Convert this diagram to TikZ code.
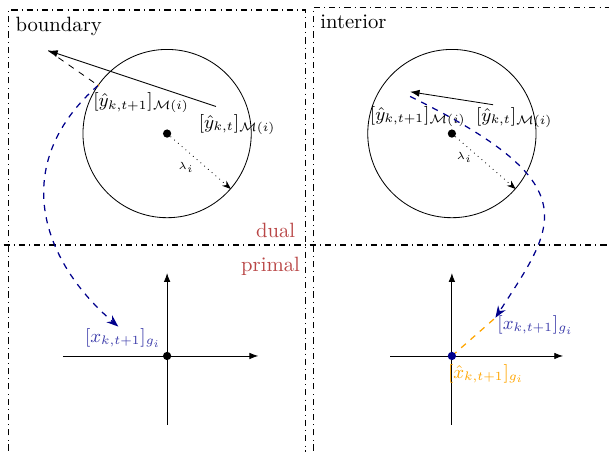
\documentclass[tikz,border=0pt]{standalone}
\usepackage{amsmath,amssymb}
\usepackage{xcolor}
\usepackage{tikz}
\usetikzlibrary{arrows.meta,positioning,calc}
\definecolor{dualred}{RGB}{185,70,70}
\definecolor{projblue}{RGB}{0,0,140}
\definecolor{lblblue}{RGB}{60,60,170}
\definecolor{clipor}{RGB}{255,165,0}
\tikzset{
  panel/.style ={dashdotted, line width=0.5pt},
  divide/.style={dashdotted, line width=1pt},
  ball/.style  ={draw, circle, minimum size=2.86cm, inner sep=0pt},
  ctr/.style   ={circle, fill, inner sep=0pt, minimum size=4pt},
  upd/.style   ={-{Latex[length=1.6mm,width=1.2mm]}},
  rad/.style   ={dotted, -{Stealth[length=1.5mm]}},
  proj/.style  ={dashed, projblue, line width=0.6pt, -{Stealth[length=2mm]}},
  axline/.style={-{Latex[length=1.5mm,width=1.1mm]}},
  lbl/.style   ={font=\small, inner sep=1pt},
  lam/.style   ={font=\tiny, inner sep=1pt},
  tag/.style   ={text=dualred}
}

\begin{document}
\begin{tikzpicture}
  \useasboundingbox (0,0) rectangle (10.35,7.68);
  \clip (0,0) rectangle (10.35,7.68);
  % panels
  \draw[panel] (0.14,-0.5) -- (0.14,7.51) -- (5.19,7.51) -- (5.19,-0.5);
  \draw[panel] (5.32,-0.5) -- (5.32,7.55) -- (10.8,7.55);
  \draw[divide] (-0.2,3.52) -- (10.6,3.52);
  \node[anchor=north west] (tbd) at (0.14,7.51) {boundary};
  \node[anchor=north west] (tin) at (5.32,7.55) {interior};
  \node[tag, anchor=east] (tdu) at (5.14,3.76) {dual};
  \node[tag, anchor=east] (tpr) at (5.22,3.15) {primal};

  % boundary, dual
  \node[ball] (bl) at (2.84,5.41) {};
  \node[ctr] (cl) at (bl.center) {};
  \draw[rad] (cl) -- (bl.-41.6);
  \node[lam] (laml) at (3.16,4.83) {$\lambda_i$};
  \coordinate (ytl) at (3.67,5.87);
  \coordinate (ysl) at (0.82,6.82);
  \coordinate (pl) at ($(cl)!1.43cm!(ysl)$);
  \draw[upd] (ytl) -- (ysl);
  \draw[dashed] (ysl) -- (pl);
  \fill[clipor] (pl) circle (0.6pt);
  \node[lbl] (ytll) at (4.03,5.57) {$[\hat{y}_{k,t}]_{\mathcal{M}(i)}$};
  \node[lbl] (ysll) at (2.40,5.93) {$[\hat{y}_{k,t+1}]_{\mathcal{M}(i)}$};

  % boundary, primal
  \coordinate (ol) at (2.84,1.63);
  \draw[axline] (1.07,1.63) -- (4.39,1.63);
  \draw[axline] (2.84,0.46) -- (2.84,3.04);
  \node[ctr] (odl) at (ol) {};
  \coordinate (xl) at (2.01,2.13);
  \draw[proj] (pl) .. controls (0.22,4.96) and (0.60,3.35) .. (xl);
  \node[lbl, text=lblblue] (xll) at (2.09,1.94) {$[x_{k,t+1}]_{g_i}$};

  % interior, dual
  \node[ball] (br) at (7.68,5.41) {};
  \node[ctr] (cr) at (br.center) {};
  \draw[rad] (cr) -- (br.-41.6);
  \node[lam] (lamr) at (7.89,5.00) {$\lambda_i$};
  \coordinate (ytr) at (8.38,5.90);
  \coordinate (ysr) at (6.97,6.12);
  \draw[upd] (ytr) -- (ysr);
  \node[lbl] (ytrl) at (8.74,5.68) {$[\hat{y}_{k,t}]_{\mathcal{M}(i)}$};
  \node[lbl] (ysrl) at (7.10,5.70) {$[\hat{y}_{k,t+1}]_{\mathcal{M}(i)}$};

  % interior, primal
  \coordinate (or) at (7.68,1.63);
  \draw[axline] (6.63,1.63) -- (9.57,1.63);
  \draw[axline] (7.68,0.46) -- (7.68,3.04);
  \coordinate (xr) at (8.42,2.28);
  \draw[dashed, clipor, line width=0.6pt] (or) -- (xr);
  \node[ctr, fill=projblue] (odr) at (or) {};
  \draw[proj] ($(ysr)+(0,-0.08)$) .. controls (10.03,4.54) and (9.44,3.86) .. (xr);
  \node[lbl, text=lblblue] (xrl) at (9.10,2.16) {$[x_{k,t+1}]_{g_i}$};
  \node[lbl, text=clipor] (xhr) at (8.26,1.33) {$[\hat{x}_{k,t+1}]_{g_i}$};
\end{tikzpicture}
\end{document}
